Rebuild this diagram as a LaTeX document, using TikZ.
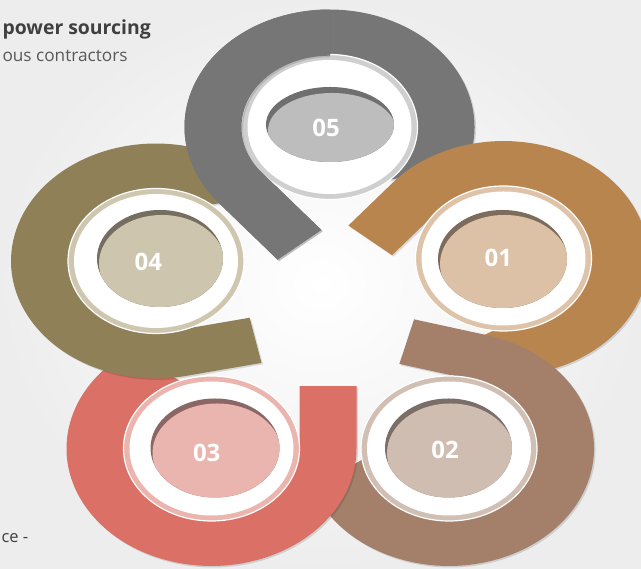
\documentclass[tikz,border=0pt]{standalone}
\usepackage{fontspec}
\setmainfont{Open Sans}
\definecolor{bandA}{HTML}{B9854F}
\definecolor{rimA}{HTML}{DEC3A8}
\definecolor{holeA}{HTML}{7D6C5B}
\definecolor{fillA}{HTML}{DCC1A6}
\definecolor{bandB}{HTML}{A4806B}
\definecolor{rimB}{HTML}{D2BFB3}
\definecolor{holeB}{HTML}{7B6E68}
\definecolor{fillB}{HTML}{D0BDB1}
\definecolor{bandC}{HTML}{DB7067}
\definecolor{rimC}{HTML}{EBB5AE}
\definecolor{holeC}{HTML}{8A6664}
\definecolor{fillC}{HTML}{EAB5AE}
\definecolor{bandD}{HTML}{8F8058}
\definecolor{rimD}{HTML}{CFC6B0}
\definecolor{holeD}{HTML}{756D60}
\definecolor{fillD}{HTML}{CEC5AF}
\definecolor{bandE}{HTML}{767676}
\definecolor{rimE}{HTML}{CFCFCF}
\definecolor{holeE}{HTML}{6F6F6F}
\definecolor{fillE}{HTML}{BDBDBD}
\newcommand\hookpath[3]{(88,#1) -- (88,0) arc[start angle=0,end angle=-#2,radius=88] -- (-#3:145) arc[start angle=-#3,end angle=0,radius=145] -- (145,#1) -- cycle}

\begin{document}
\begin{tikzpicture}[x=1pt,y=1pt]
\tikzstyle{num}=[text=white,font=\fontsize{24}{24}\selectfont\bfseries]
\tikzstyle{shadow}=[fill=black,opacity=0.13]
\tikzstyle{rim}=[draw=white,line width=1.2pt]
\shade[inner color=white,outer color=white!93!black] (0,0) rectangle (641,569);
\useasboundingbox (0,0) rectangle (641,569);

\node[anchor=base west,text=black!75,font=\fontsize{19.4}{19.4}\selectfont\bfseries] (title) at (-1,534) {power sourcing};
\node[anchor=base west,text=black!65,font=\fontsize{17.2}{17.2}\selectfont] (subtitle) at (-1,507) {ous contractors};
\node[anchor=base west,text=black!75,font=\fontsize{16.5}{16.5}\selectfont] (footer) at (-2,26) {ce -};

\begin{scope}[shift={(331,440.5)},yscale=0.81,rotate=-140]
\fill[shadow] \hookpath{92}{268}{240};
\end{scope}
\begin{scope}[shift={(329.5,442)},yscale=0.81,rotate=-140]
\fill[bandE] \hookpath{92}{268}{240};
\end{scope}
\fill[rimE,rim] (329.5,442) ellipse[x radius=88,y radius=72.5];
\fill[white] (329.5,442) ellipse[x radius=82,y radius=67];
\fill[holeE] (330,444.5) ellipse[x radius=64,y radius=37.5];
\begin{scope}
\clip (330,444.5) ellipse[x radius=64,y radius=37.5];
\fill[fillE] (332,438.5) ellipse[x radius=64,y radius=37.5];
\end{scope}
\node[num] (n05) at (326,440.7) {05};

\begin{scope}[shift={(505,309)},yscale=0.81,rotate=-220]
\fill[shadow] \hookpath{68.5}{235}{260};
\end{scope}
\begin{scope}[shift={(503.5,310.5)},yscale=0.81,rotate=-220]
\fill[bandA] \hookpath{68.5}{235}{260};
\end{scope}
\fill[rimA,rim] (503.5,310.5) ellipse[x radius=88,y radius=72.5];
\fill[white] (503.5,310.5) ellipse[x radius=82,y radius=67];
\fill[holeA] (502.5,310) ellipse[x radius=64.5,y radius=49];
\begin{scope}
\clip (502.5,310) ellipse[x radius=64.5,y radius=49];
\fill[fillA] (504.5,305) ellipse[x radius=64.5,y radius=49];
\end{scope}
\node[num] (n01) at (498.3,310.7) {01};

\begin{scope}[shift={(450.5,119)},yscale=0.81,rotate=75]
\fill[shadow] \hookpath{75}{246}{235};
\end{scope}
\begin{scope}[shift={(449,120.5)},yscale=0.81,rotate=75]
\fill[bandB] \hookpath{75}{246}{235};
\end{scope}
\fill[rimB,rim] (449,120.5) ellipse[x radius=88,y radius=72.5];
\fill[white] (449,120.5) ellipse[x radius=82,y radius=67];
\fill[holeB] (448.5,121) ellipse[x radius=63.5,y radius=49.5];
\begin{scope}
\clip (448.5,121) ellipse[x radius=63.5,y radius=49.5];
\fill[fillB] (450.5,116) ellipse[x radius=63.5,y radius=49.5];
\end{scope}
\node[num] (n02) at (445,119) {02};

\begin{scope}[shift={(213,119)},yscale=0.81,rotate=0]
\fill[shadow] \hookpath{77}{250}{235};
\end{scope}
\begin{scope}[shift={(211.5,120.5)},yscale=0.81,rotate=0]
\fill[bandC] \hookpath{77}{250}{235};
\end{scope}
\fill[rimC,rim] (211.5,120.5) ellipse[x radius=88,y radius=72.5];
\fill[white] (211.5,120.5) ellipse[x radius=82,y radius=67];
\fill[holeC] (215,121) ellipse[x radius=64.5,y radius=49.5];
\begin{scope}
\clip (215,121) ellipse[x radius=64.5,y radius=49.5];
\fill[fillC] (217,116) ellipse[x radius=64.5,y radius=49.5];
\end{scope}
\node[num] (n03) at (206.7,115.7) {03};

\begin{scope}[shift={(157.5,306.5)},yscale=0.81,rotate=-78]
\fill[shadow] \hookpath{77}{230}{247};
\end{scope}
\begin{scope}[shift={(156,308)},yscale=0.81,rotate=-78]
\fill[bandD] \hookpath{77}{230}{247};
\end{scope}
\fill[rimD,rim] (156,308) ellipse[x radius=88,y radius=72.5];
\fill[white] (156,308) ellipse[x radius=82,y radius=67];
\fill[holeD] (160,310.5) ellipse[x radius=63,y radius=48.5];
\begin{scope}
\clip (160,310.5) ellipse[x radius=63,y radius=48.5];
\fill[fillD] (162,305.5) ellipse[x radius=63,y radius=48.5];
\end{scope}
\node[num] (n04) at (148.3,307.3) {04};

\begin{scope}
\clip (0,250) rectangle (330,569);
\begin{scope}[shift={(331,440.5)},yscale=0.81,rotate=-140]
\fill[shadow] \hookpath{92}{268}{240};
\end{scope}
\begin{scope}[shift={(329.5,442)},yscale=0.81,rotate=-140]
\fill[bandE] \hookpath{92}{268}{240};
\end{scope}
\end{scope}
\end{tikzpicture}
\end{document}
